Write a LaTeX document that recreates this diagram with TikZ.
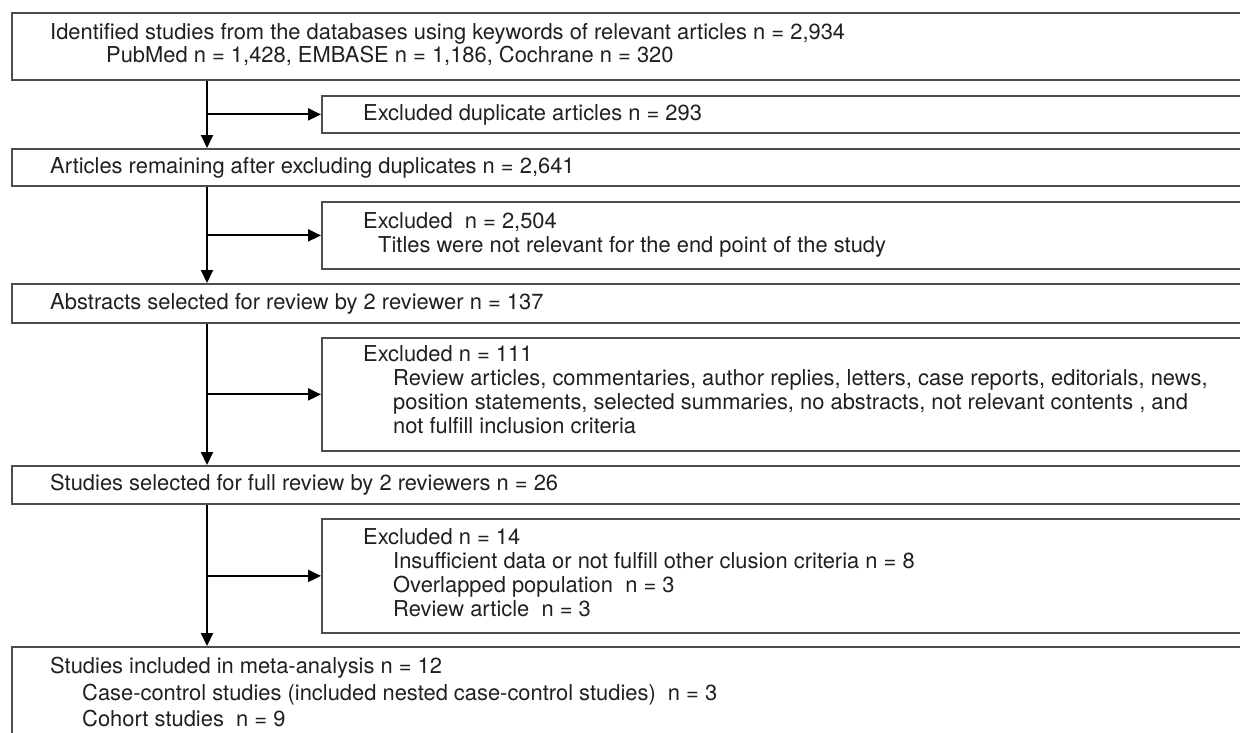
\documentclass[tikz,border=0pt]{standalone}
\usepackage{fontspec}
\setmainfont{TeX Gyre Heros}
\usetikzlibrary{arrows.meta}
\definecolor{boxgray}{HTML}{4D4D4D}
\definecolor{txtcol}{HTML}{231F20}
\begin{document}
\begin{tikzpicture}[x=1pt,y=-1pt,
  box/.style={draw=boxgray,line width=1.8pt,anchor=north west,inner sep=0pt,rectangle},
  mainbox/.style={box,minimum width=1249pt},
  exbox/.style={box,minimum width=939pt},
  txt/.style={anchor=base west,inner sep=0pt,font=\fontsize{21.9}{24}\selectfont,text=txtcol},
  arr/.style={draw=black,line width=2pt,-{Triangle[length=13pt,width=12pt]}}
]
\useasboundingbox (0,0) rectangle (1240,732);
\fill[white] (0,0) rectangle (1240,732);
\clip (0,0) rectangle (1240,732);
\coordinate (v) at (207,0);
% boxes
\node[mainbox,minimum height=67pt] (b1) at (11,12) {};
\node[exbox,minimum height=37pt] (b2) at (321,95) {};
\node[mainbox,minimum height=37pt] (b3) at (11,148) {};
\node[exbox,minimum height=67pt] (b4) at (321,201) {};
\node[mainbox,minimum height=39pt] (b5) at (11,283) {};
\node[exbox,minimum height=113pt] (b6) at (321,337) {};
\node[mainbox,minimum height=38pt] (b7) at (11,465) {};
\node[exbox,minimum height=114pt] (b8) at (321,518) {};
\node[mainbox,minimum height=120pt] (b9) at (11,646) {};
% texts
\node[txt] (t1a) at (50,39.4) {Identified studies from the databases using keywords of relevant articles n = 2,934};
\node[txt] (t1b) at (106,62.6) {PubMed n = 1,428, EMBASE n = 1,186, Cochrane n = 320};
\node[txt] (t2) at (363,120) {Excluded duplicate articles n = 293};
\node[txt] (t3) at (50,173) {Articles remaining after excluding duplicates n = 2,641};
\node[txt] (t4a) at (363,228.5) {Excluded\ \ n = 2,504};
\node[txt] (t4b) at (378,252.5) {Titles were not relevant for the end point of the study};
\node[txt] (t5) at (50,309) {Abstracts selected for review by 2 reviewer n = 137};
\node[txt] (t6a) at (363,361) {Excluded n = 111};
\node[txt] (t6b) at (393,385) {Review articles, commentaries, author replies, letters, case reports, editorials, news,};
\node[txt] (t6c) at (393,409) {position statements, selected summaries, no abstracts, not relevant contents , and};
\node[txt] (t6d) at (393,433) {not fulfill inclusion criteria};
\node[txt] (t7) at (50,490.5) {Studies selected for full review by 2 reviewers n = 26};
\node[txt] (t8a) at (363,544.5) {Excluded n = 14};
\node[txt] (t8b) at (393,568.5) {Insufficient data or not fulfill other clusion criteria n = 8};
\node[txt] (t8c) at (393,592.5) {Overlapped population\ \ n = 3};
\node[txt] (t8d) at (393,616.5) {Review article\ \ n = 3};
\node[txt] (t9a) at (50,673) {Studies included in meta-analysis n = 12};
\node[txt] (t9b) at (82,700) {Case-control studies (included nested case-control studies)\ \ n = 3};
\node[txt] (t9c) at (82,726) {Cohort studies\ \ n = 9};
% connectors
\draw[arr] (b1.south -| v) -- (b3.north -| v);
\draw[arr] (b2.west -| v) -- (b2.west);
\draw[arr] (b3.south -| v) -- (b5.north -| v);
\draw[arr] (b4.west -| v) -- (b4.west);
\draw[arr] (b5.south -| v) -- (b7.north -| v);
\draw[arr] (b6.west -| v) -- (b6.west);
\draw[arr] (b7.south -| v) -- (b9.north -| v);
\draw[arr] (b8.west -| v) -- (b8.west);
\end{tikzpicture}
\end{document}
